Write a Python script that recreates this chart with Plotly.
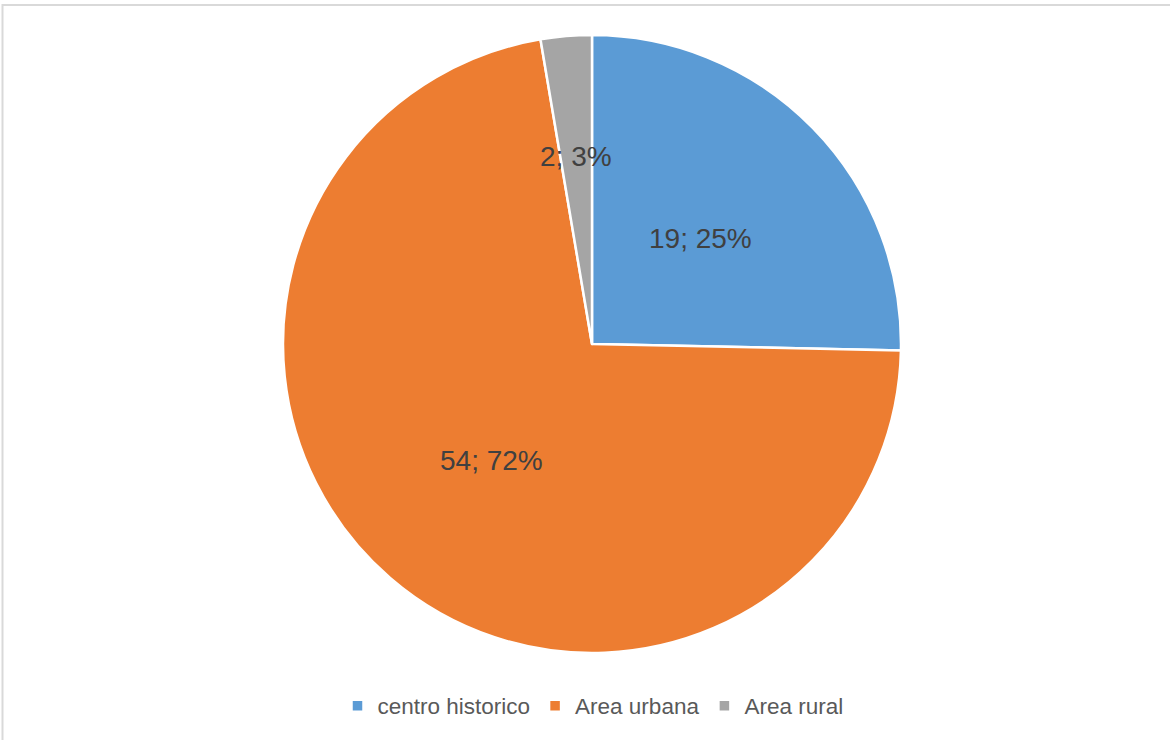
import math
import plotly.graph_objects as go

# Slice data
categories = ["centro historico", "Area urbana", "Area rural"]
values = [19, 54, 2]
colors = ["#5B9BD5", "#ED7D31", "#A5A5A5"]

# Canvas geometry (pixels)
W, H = 1170, 740
ML, MR, MT, MB = 14, 0, 35, 87
PW, PH = W - ML - MR, H - MT - MB
R = min(PW, PH) / 2

# Radial placement of each data label (fraction of radius)
label_radius = [0.49, 0.50, 0.61]

fig = go.Figure(
    go.Pie(
        labels=categories,
        values=values,
        marker=dict(colors=colors, line=dict(color="white", width=2.5)),
        sort=False,
        direction="clockwise",
        rotation=0,
        textinfo="none",
        hoverinfo="label+value+percent",
    )
)

# Data labels "value; percent" placed at slice mid-angles
total = sum(values)
annotations = []
cum = 0
for v, rf in zip(values, label_radius):
    mid = (cum + v / 2) / total * 2 * math.pi
    cum += v
    dx = rf * R * math.sin(mid)
    dy = rf * R * math.cos(mid)
    annotations.append(
        dict(
            x=0.5 + dx / PW,
            y=0.5 + dy / PH,
            xref="paper",
            yref="paper",
            xanchor="center",
            yanchor="middle",
            text=f"{v}; {round(v / total * 100)}%",
            showarrow=False,
            font=dict(family="Liberation Sans, Arial, sans-serif", size=28, color="#404040"),
        )
    )


def px_x(p):
    return (p - ML) / PW


def px_y(p):
    return (H - MB - p) / PH


fig.update_layout(
    width=W,
    height=H,
    margin=dict(l=ML, r=MR, t=MT, b=MB),
    paper_bgcolor="white",
    plot_bgcolor="white",
    annotations=annotations,
    showlegend=True,
    legend=dict(
        orientation="h",
        x=px_x(593),
        xanchor="center",
        y=px_y(706),
        yanchor="middle",
        font=dict(family="Liberation Sans, Arial, sans-serif", size=22.5, color="#595959"),
        traceorder="normal",
    ),
    shapes=[
        dict(
            type="rect",
            xref="paper",
            yref="paper",
            x0=px_x(2.5),
            x1=px_x(W + 5),
            y0=px_y(H + 5),
            y1=px_y(5),
            line=dict(color="#D9D9D9", width=2),
            fillcolor="rgba(0,0,0,0)",
            layer="below",
        )
    ],
)

fig.write_html("out.html")
